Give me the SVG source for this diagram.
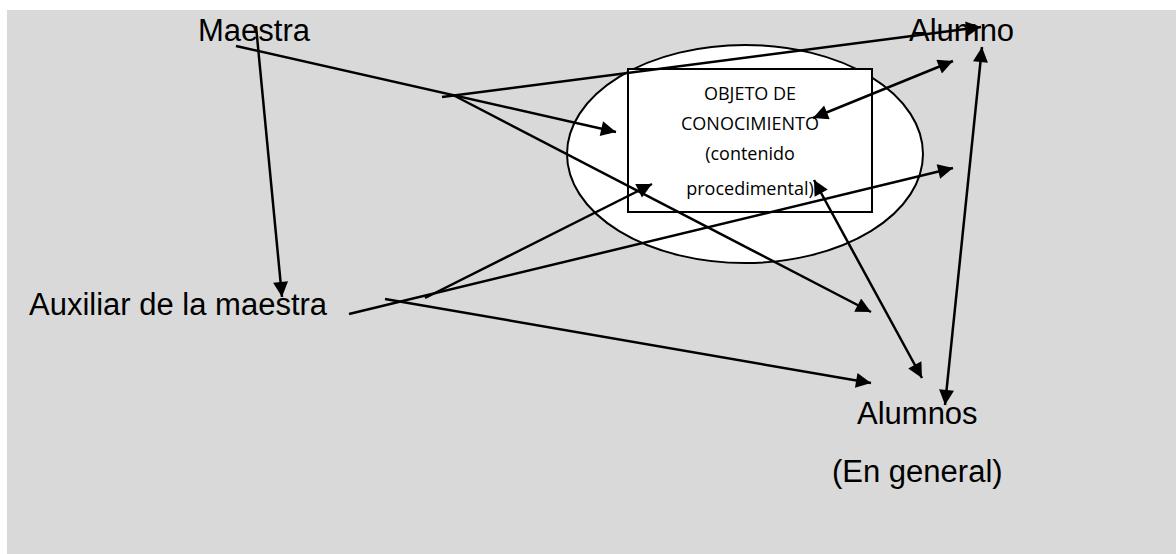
<svg xmlns="http://www.w3.org/2000/svg" width="1176" height="554" viewBox="0 0 1176 554">
<style>
.lbl{font-family:"Liberation Sans",Arial,sans-serif;font-size:31px;fill:#000}
.obj{font-family:"Open Sans","Liberation Sans",sans-serif;font-size:18px;fill:#000;text-anchor:middle}
.c{stroke:#000;stroke-width:2.5;fill:none}
</style>
<defs>
<marker id="ah" viewBox="0 0 10 10" refX="10" refY="5" markerWidth="7" markerHeight="6" markerUnits="strokeWidth" orient="auto-start-reverse">
<path d="M0,0 L10,5 L0,10 z" fill="#000"/>
</marker>
</defs>
<rect x="0" y="0" width="1176" height="554" fill="#fff"/>
<rect x="7" y="10" width="1169" height="544" fill="#d9d9d9"/>
<g id="objeto">
<ellipse cx="745" cy="154" rx="178" ry="109" fill="#fff" stroke="#000" stroke-width="2"/>
<rect x="628" y="69" width="244" height="143" fill="#fff" stroke="#000" stroke-width="2"/>
<text class="obj" x="750" y="100">OBJETO DE</text>
<text class="obj" x="750" y="130">CONOCIMIENTO</text>
<text class="obj" x="750" y="160">(contenido</text>
<text class="obj" x="750" y="195">procedimental)</text>
</g>
<g id="maestra"><text class="lbl" x="198" y="41">Maestra</text></g>
<g id="alumno"><text class="lbl" x="909" y="41">Alumno</text></g>
<g id="auxiliar"><text class="lbl" x="29" y="315">Auxiliar de la maestra</text></g>
<g id="alumnos">
<text class="lbl" x="857" y="424">Alumnos</text>
<text class="lbl" x="832" y="482">(En general)</text>
</g>
<g id="connectors" class="c">
<line x1="256" y1="26" x2="282" y2="297" marker-end="url(#ah)"/>
<line x1="236" y1="46" x2="616" y2="132" marker-end="url(#ah)"/>
<line x1="442" y1="97" x2="981" y2="27" marker-end="url(#ah)"/>
<line x1="453" y1="95" x2="871" y2="312" marker-end="url(#ah)"/>
<line x1="349" y1="314" x2="953" y2="168" marker-end="url(#ah)"/>
<line x1="385" y1="299" x2="871" y2="383" marker-end="url(#ah)"/>
<line x1="425" y1="298" x2="652" y2="184" marker-end="url(#ah)"/>
<line x1="813" y1="118" x2="953" y2="61" marker-start="url(#ah)" marker-end="url(#ah)"/>
<line x1="982" y1="47" x2="945" y2="405" marker-start="url(#ah)" marker-end="url(#ah)"/>
<line x1="814" y1="180" x2="922" y2="378" marker-start="url(#ah)" marker-end="url(#ah)"/>
</g>
</svg>
